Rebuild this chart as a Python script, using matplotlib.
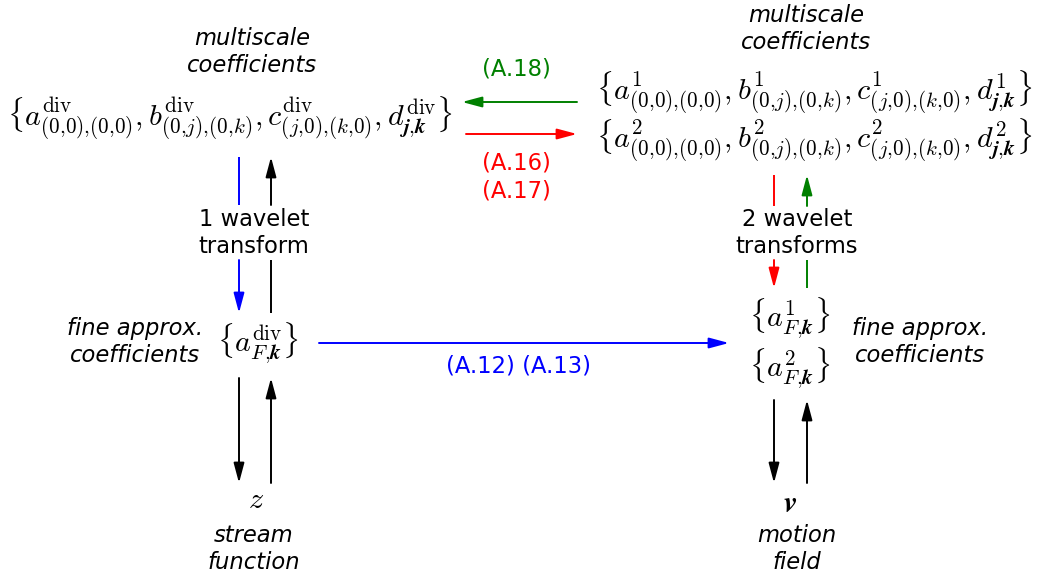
import matplotlib
matplotlib.use("Agg")
import matplotlib.pyplot as plt

plt.rcParams['font.family'] = ['DejaVu Sans']
plt.rcParams['mathtext.fontset'] = 'cm'

# text content of the diagram
coef_div = r'$\{a^{\mathrm{div}}_{(0{,}0){,}(0{,}0)}, b^{\mathrm{div}}_{(0{,}j){,}(0{,}k)}, c^{\mathrm{div}}_{(j{,}0){,}(k{,}0)}, d^{\mathrm{div}}_{\mathbfit{j}{,}\mathbfit{k}}\}$'
coef_vel = [r'$\{a^{%d}_{(0{,}0){,}(0{,}0)}, b^{%d}_{(0{,}j){,}(0{,}k)}, c^{%d}_{(j{,}0){,}(k{,}0)}, d^{%d}_{\mathbfit{j}{,}\mathbfit{k}}\}$' % (i, i, i, i)
            for i in (1, 2)]
fine_div = r'$\{a^{\mathrm{div}}_{F{,}\mathbfit{k}}\}$'
fine_vel = [r'$\{a^{%d}_{F{,}\mathbfit{k}}\}$' % i for i in (1, 2)]
labels_italic = ['multiscale\ncoefficients', 'fine approx.\ncoefficients',
                 'stream\nfunction', 'motion\nfield']
eq_labels = ['(A.18)', '(A.16)\n(A.17)', '(A.12) (A.13)']
transform_labels = ['1 wavelet\ntransform', '2 wavelet\ntransforms']

GREEN = '#008000'
RED = '#ff0000'
BLUE = '#0000ff'

fig = plt.figure(figsize=(10.37, 5.81), dpi=100)
ax = fig.add_axes([0, 0, 1, 1])
ax.set_xlim(0, 1037)
ax.set_ylim(581, 0)
ax.axis('off')

FS = 16.3
MFS = 21.7
LS = 1.25


def arrow(x0, y0, x1, y1, color):
    ax.annotate('', xy=(x1, y1), xytext=(x0, y0),
                arrowprops=dict(arrowstyle='-|>,head_length=0.6,head_width=0.16',
                                color=color, lw=1.4, shrinkA=0, shrinkB=0,
                                mutation_scale=20))


def line(x0, y0, x1, y1, color):
    ax.plot([x0, x1], [y0, y1], color=color, lw=1.4, solid_capstyle='butt')


def caption(x, y, s, **kw):
    ax.text(x, y, s, fontsize=FS, ha='center', va='center', linespacing=LS, **kw)


# formulas
ax.text(230, 118, coef_div, fontsize=MFS, ha='center', va='center')
ax.text(814, 92, coef_vel[0], fontsize=MFS, ha='center', va='center')
ax.text(814, 140, coef_vel[1], fontsize=MFS, ha='center', va='center')
ax.text(258, 343, fine_div, fontsize=MFS, ha='center', va='center')
ax.text(790, 318, fine_vel[0], fontsize=MFS, ha='center', va='center')
ax.text(790, 368, fine_vel[1], fontsize=MFS, ha='center', va='center')
ax.text(256, 500, r'$z$', fontsize=MFS, ha='center', va='center')
ax.text(790, 503, r'$\mathbfit{v}$', fontsize=MFS, ha='center', va='center')

# italic captions
caption(252, 52, labels_italic[0], style='italic')
caption(806, 29, labels_italic[0], style='italic')
caption(135, 342, labels_italic[1], style='italic')
caption(920, 342, labels_italic[1], style='italic')
caption(254, 549, labels_italic[2], style='italic')
caption(797, 549, labels_italic[3], style='italic')

# equation references
caption(516, 69, eq_labels[0], color=GREEN)
caption(516, 177, eq_labels[1], color=RED)
caption(519, 366, eq_labels[2], color=BLUE)

# wavelet transform labels
caption(254, 233, transform_labels[0])
caption(797, 233, transform_labels[1])

# horizontal arrows
arrow(577, 102, 462, 102, GREEN)
arrow(466, 134, 577, 134, RED)
arrow(319, 343, 729, 343, BLUE)

# left column, multiscale <-> fine
line(239, 157, 239, 205, BLUE)
arrow(239, 260, 239, 313, BLUE)
line(271, 313, 271, 260, 'black')
arrow(271, 205, 271, 157, 'black')

# right column, multiscale <-> fine
line(774, 175, 774, 206, RED)
arrow(774, 260, 774, 288, RED)
line(807, 288, 807, 260, GREEN)
arrow(807, 206, 807, 175, GREEN)

# bottom arrows
arrow(239, 378, 239, 483, 'black')
arrow(271, 483, 271, 378, 'black')
arrow(774, 400, 774, 483, 'black')
arrow(807, 483, 807, 400, 'black')

fig.savefig('out.png', dpi=100)
